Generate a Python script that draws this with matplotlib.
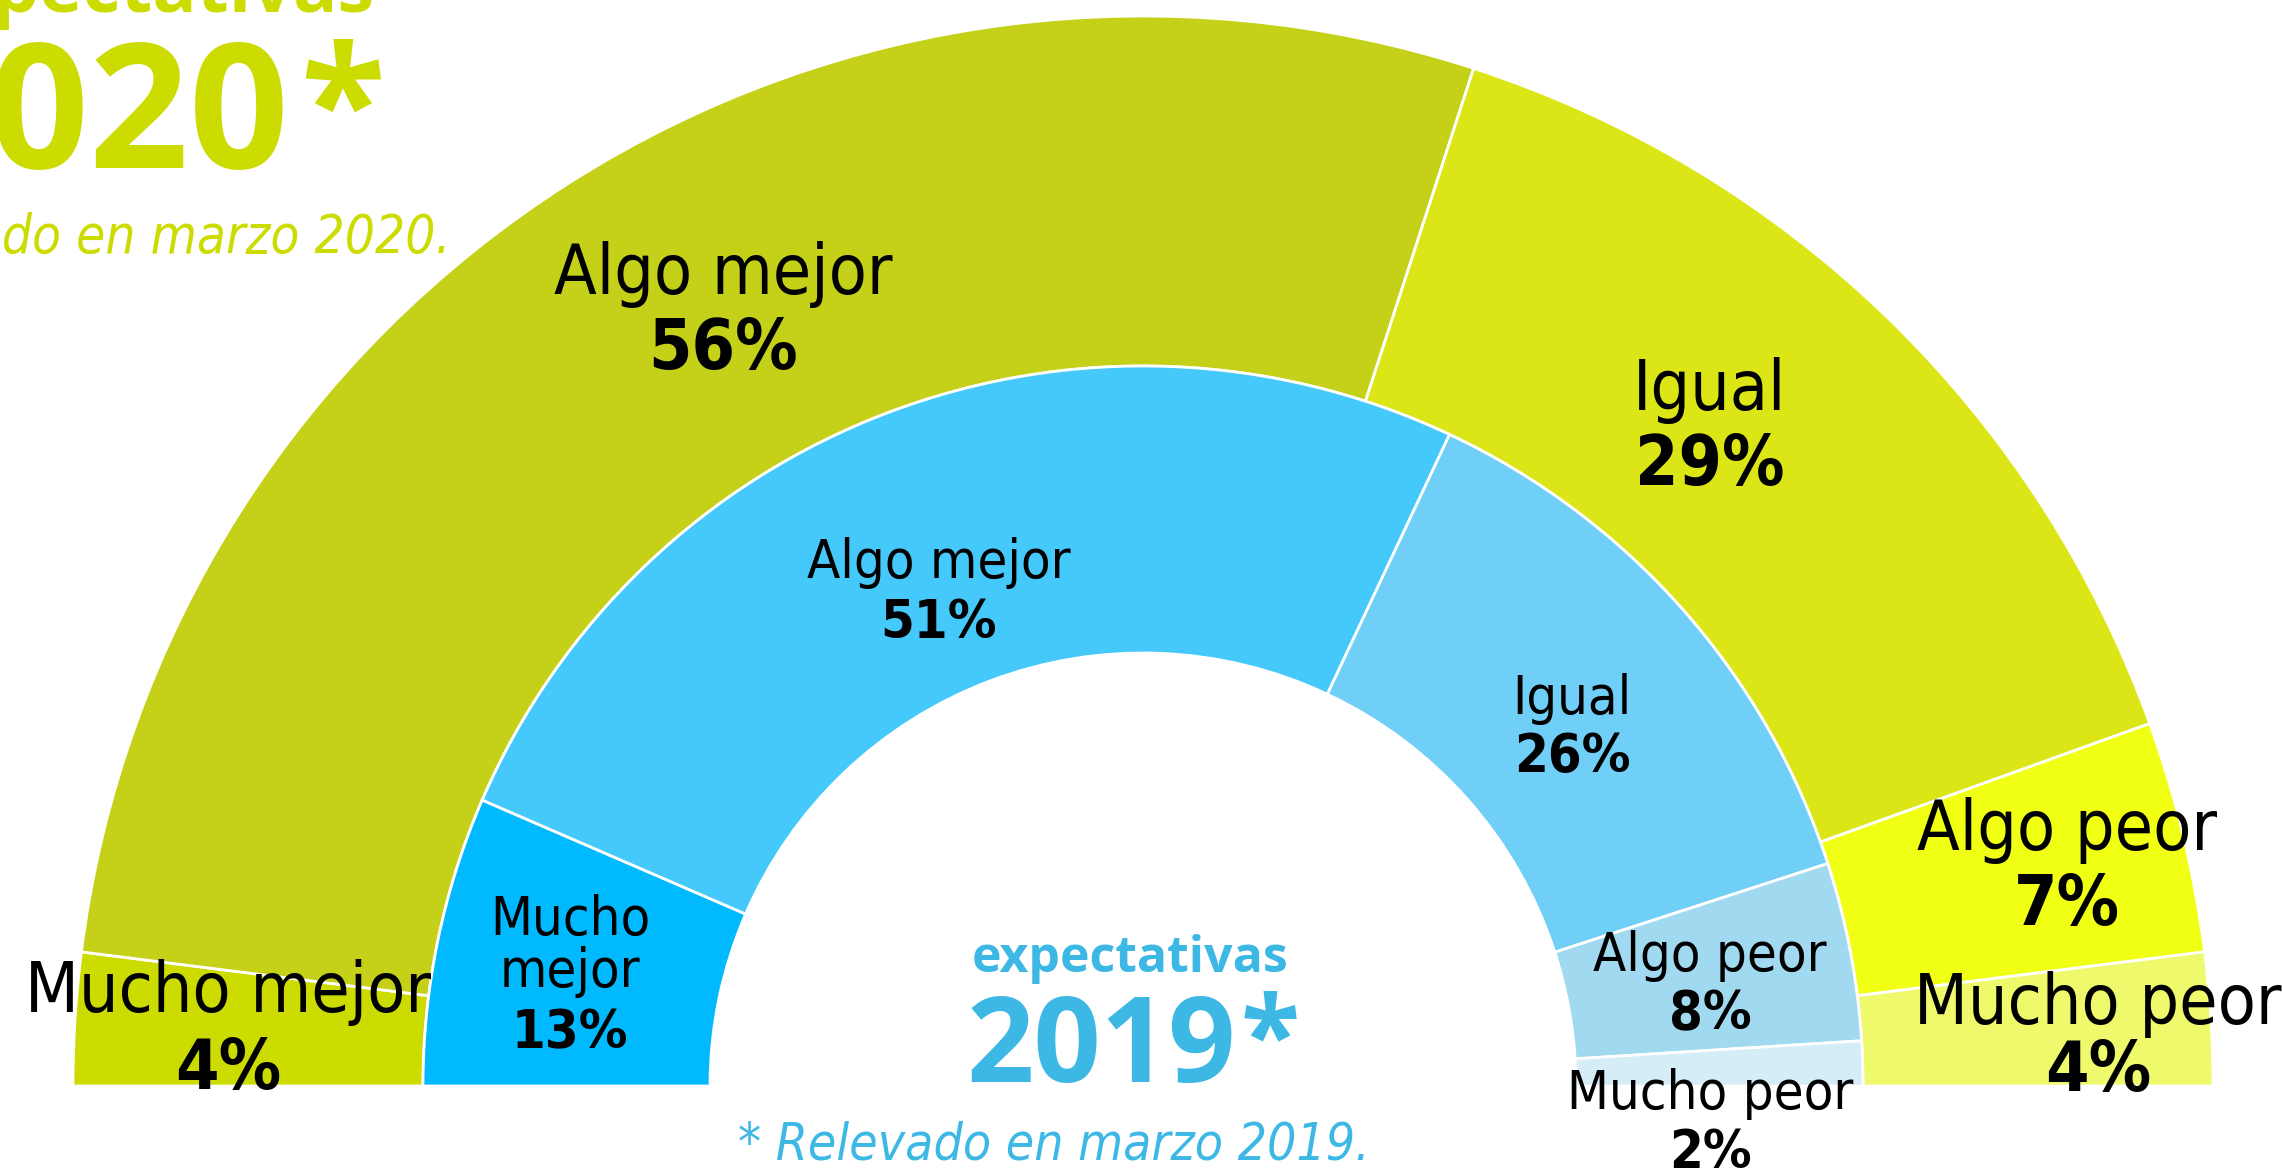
import matplotlib
matplotlib.use("Agg")
import matplotlib.pyplot as plt
from matplotlib import font_manager as fm

# data
categories = ["Mucho mejor", "Algo mejor", "Igual", "Algo peor", "Mucho peor"]
vals_2020 = [4, 56, 29, 7, 4]
vals_2019 = [13, 51, 26, 8, 2]

cols_2020 = ["#CCDC00", "#C5D118", "#DCE617", "#F0FF14", "#EEF96B"]
cols_2019 = ["#00B9FF", "#45C8FA", "#6FCFF6", "#A1D9F0", "#D4EDF7"]

green = "#CCDC00"
blue = "#3DB8E5"

names = {f.name for f in fm.fontManager.ttflist}
if "Liberation Sans Narrow" in names:
    narrow = dict(family="Liberation Sans Narrow")
else:
    narrow = dict(family="DejaVu Sans", stretch="condensed")
title_font = "Open Sans" if "Open Sans" in names else "DejaVu Sans"

W, H = 2282, 1172
cx, cy = 1143, 1086  # ring centre in pixels from top-left

fig = plt.figure(figsize=(W / 100, H / 100), dpi=100)
ax = fig.add_axes([0, 0, 1, 1])

R_out, R_mid, R_in = 1070, 720, 433

w1, _ = ax.pie(vals_2020 + [sum(vals_2020)], radius=R_out, center=(0, 0),
               startangle=180, counterclock=False,
               colors=cols_2020 + ["white"],
               wedgeprops=dict(width=R_out - R_mid, edgecolor="white", linewidth=2))
w1[-1].set_visible(False)
w2, _ = ax.pie(vals_2019 + [sum(vals_2019)], radius=R_mid, center=(0, 0),
               startangle=180, counterclock=False,
               colors=cols_2019 + ["white"],
               wedgeprops=dict(width=R_mid - R_in, edgecolor="white", linewidth=2))
w2[-1].set_visible(False)

ax.set_xlim(-cx, W - cx)
ax.set_ylim(cy - H, cy)
ax.set_aspect("equal")
ax.axis("off")


def px(x, y):
    return x - cx, cy - y


# label positions (pixel centres of name line, pct line)
pos_2020 = [(228, 993, 1070), (723, 274, 349), (1710, 390, 466),
            (2067, 830, 905), (2098, 1004, 1071)]
pos_2019 = [(570, 946, 1033), (939, 563, 623), (1572, 699, 757),
            (1710, 956, 1014), (1710, 1094, 1153)]

for cat, v, (x, y1, y2) in zip(categories, vals_2020, pos_2020):
    ax.text(*px(x, y1), cat, ha="center", va="center", fontsize=50, **narrow)
    ax.text(*px(x, y2), f"{v}%", ha="center", va="center", fontsize=50,
            fontweight="bold", **narrow)

for i, (cat, v, (x, y1, y2)) in enumerate(zip(categories, vals_2019, pos_2019)):
    lab = cat.replace(" ", "\n") if i == 0 else cat
    ax.text(*px(x, y1), lab, ha="center", va="center", fontsize=39,
            linespacing=1.0, **narrow)
    ax.text(*px(x, y2), f"{v}%", ha="center", va="center", fontsize=39,
            fontweight="bold", **narrow)

# titles
ax.text(*px(375, 12), "expectativas", ha="right", va="baseline", fontsize=53,
        color=green, fontweight="bold", family=title_font, clip_on=False)
ax.text(*px(289, 168), "2020", ha="right", va="baseline", fontsize=126,
        color=green, fontweight="bold", family=title_font)
ax.text(*px(343, 39), "*", ha="center", va="top", fontsize=112,
        color=green, fontweight="bold", family=title_font)
ax.text(*px(451, 253), "* Relevado en marzo 2020.", ha="right", va="baseline",
        fontsize=38, color=green, style="italic", **narrow)

ax.text(*px(1130, 972), "expectativas", ha="center", va="baseline", fontsize=36,
        color=blue, fontweight="bold", family=title_font)
ax.text(*px(1236, 1082), "2019", ha="right", va="baseline", fontsize=85,
        color=blue, fontweight="bold", family=title_font)
ax.text(*px(1270, 990), "*", ha="center", va="top", fontsize=78,
        color=blue, fontweight="bold", family=title_font)
ax.text(*px(1054, 1160), "* Relevado en marzo 2019.", ha="center", va="baseline",
        fontsize=37, color=blue, style="italic", **narrow)

fig.savefig("out.png", dpi=100)
